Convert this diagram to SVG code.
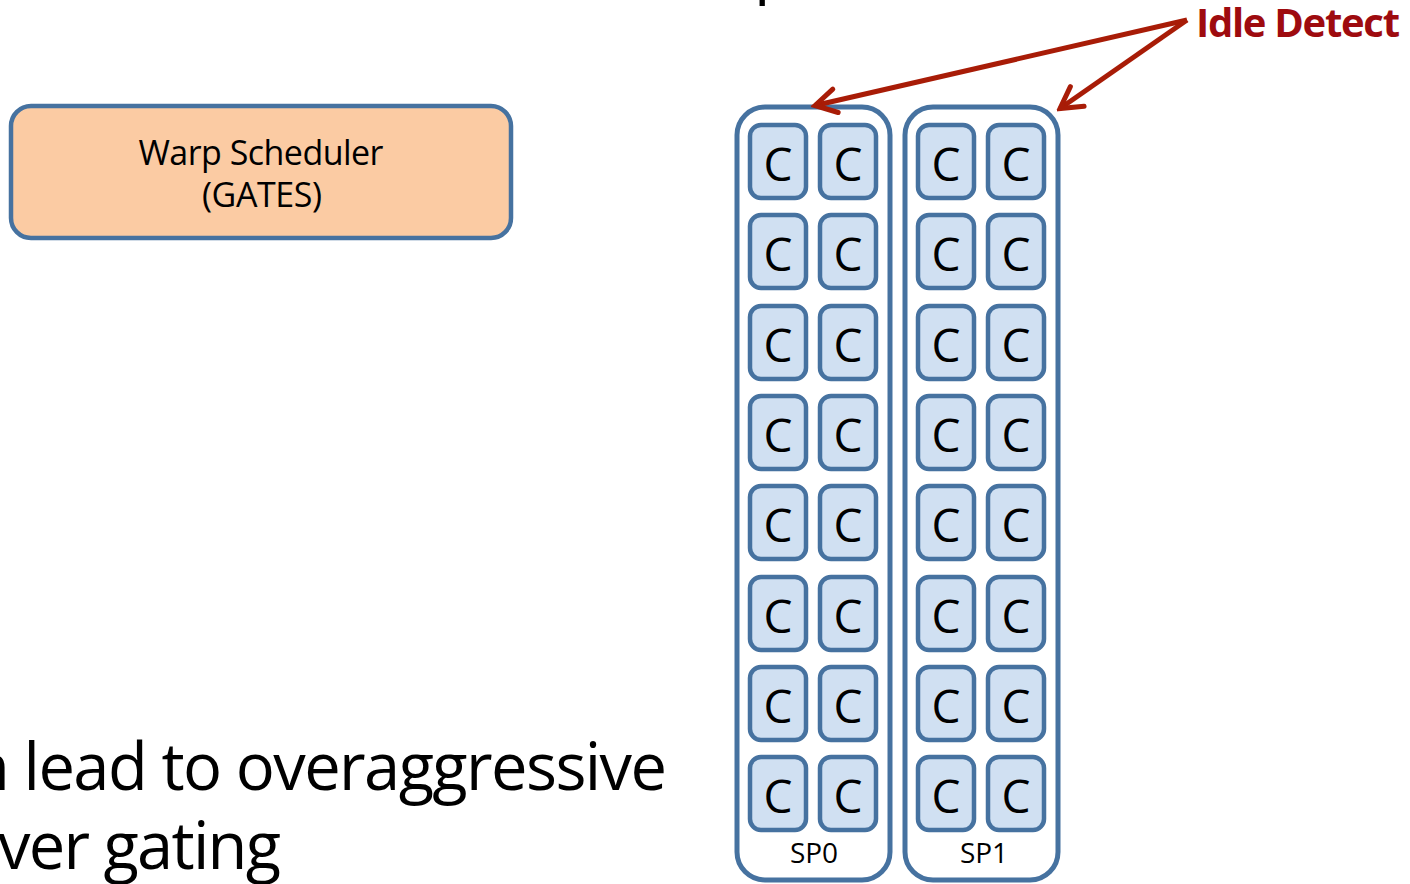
<svg xmlns="http://www.w3.org/2000/svg" width="1410" height="884" viewBox="0 0 1410 884">
<defs>
<style>
text{font-family:"Open Sans","Noto Sans","Liberation Sans",sans-serif;fill:#000}
.cell rect{fill:#D0E0F2;stroke:#4672A0;stroke-width:4.5}
.cell text{font-size:46px;text-anchor:middle}
.sp{fill:#fff;stroke:#4672A0;stroke-width:5}
.splab{font-size:28px;text-anchor:middle}
.big{font-size:65px}
.arrow{stroke:#A81C07;stroke-width:5;fill:none}
</style>
<marker id="open" markerUnits="userSpaceOnUse" viewBox="-26 -16 30 32" refX="0" refY="0" markerWidth="30" markerHeight="32" orient="auto">
<path d="M -21 -12 L 0 0 L -21 12" fill="none" stroke="#A81C07" stroke-width="5" stroke-linejoin="miter" stroke-linecap="round"/>
</marker>
</defs>
<rect width="1410" height="884" fill="#fff"/>

<text class="big" x="754" y="-10.5">p</text>
<text class="big" x="-30" y="790" textLength="697">n lead to overaggressive</text>
<text class="big" x="-2" y="869" textLength="283">ver gating</text>

<g id="warp-scheduler">
<rect x="11" y="106" width="500" height="132" rx="20" fill="#FBCBA3" stroke="#4672A0" stroke-width="4.5"/>
<text x="261" y="165" font-size="34" text-anchor="middle" textLength="245">Warp Scheduler</text>
<text x="262" y="207" font-size="34" text-anchor="middle" textLength="120">(GATES)</text>
</g>

<g id="idle-detect">
<text x="1196" y="37" font-size="40" font-weight="bold" style="fill:#9E0B0F" textLength="204">Idle Detect</text>
</g>

<g id="SP0">
<rect class="sp" x="737" y="107" width="153" height="773" rx="28"/>
<text class="splab" x="814" y="863">SP0</text>
</g>
<g id="SP1">
<rect class="sp" x="905" y="107" width="153" height="773" rx="28"/>
<text class="splab" x="984" y="863">SP1</text>
</g>

<g id="cells">
<g class="cell" id="c0-0-0"><rect x="750" y="125" width="56" height="73" rx="11"/><text x="778" y="181">C</text></g>
<g class="cell" id="c0-0-1"><rect x="820" y="125" width="56" height="73" rx="11"/><text x="848" y="181">C</text></g>
<g class="cell" id="c1-0-0"><rect x="918" y="125" width="56" height="73" rx="11"/><text x="946" y="181">C</text></g>
<g class="cell" id="c1-0-1"><rect x="988" y="125" width="56" height="73" rx="11"/><text x="1016" y="181">C</text></g>

<g class="cell" id="c0-1-0"><rect x="750" y="215" width="56" height="73" rx="11"/><text x="778" y="271">C</text></g>
<g class="cell" id="c0-1-1"><rect x="820" y="215" width="56" height="73" rx="11"/><text x="848" y="271">C</text></g>
<g class="cell" id="c1-1-0"><rect x="918" y="215" width="56" height="73" rx="11"/><text x="946" y="271">C</text></g>
<g class="cell" id="c1-1-1"><rect x="988" y="215" width="56" height="73" rx="11"/><text x="1016" y="271">C</text></g>

<g class="cell" id="c0-2-0"><rect x="750" y="306" width="56" height="73" rx="11"/><text x="778" y="362">C</text></g>
<g class="cell" id="c0-2-1"><rect x="820" y="306" width="56" height="73" rx="11"/><text x="848" y="362">C</text></g>
<g class="cell" id="c1-2-0"><rect x="918" y="306" width="56" height="73" rx="11"/><text x="946" y="362">C</text></g>
<g class="cell" id="c1-2-1"><rect x="988" y="306" width="56" height="73" rx="11"/><text x="1016" y="362">C</text></g>

<g class="cell" id="c0-3-0"><rect x="750" y="396" width="56" height="73" rx="11"/><text x="778" y="452">C</text></g>
<g class="cell" id="c0-3-1"><rect x="820" y="396" width="56" height="73" rx="11"/><text x="848" y="452">C</text></g>
<g class="cell" id="c1-3-0"><rect x="918" y="396" width="56" height="73" rx="11"/><text x="946" y="452">C</text></g>
<g class="cell" id="c1-3-1"><rect x="988" y="396" width="56" height="73" rx="11"/><text x="1016" y="452">C</text></g>

<g class="cell" id="c0-4-0"><rect x="750" y="486" width="56" height="73" rx="11"/><text x="778" y="542">C</text></g>
<g class="cell" id="c0-4-1"><rect x="820" y="486" width="56" height="73" rx="11"/><text x="848" y="542">C</text></g>
<g class="cell" id="c1-4-0"><rect x="918" y="486" width="56" height="73" rx="11"/><text x="946" y="542">C</text></g>
<g class="cell" id="c1-4-1"><rect x="988" y="486" width="56" height="73" rx="11"/><text x="1016" y="542">C</text></g>

<g class="cell" id="c0-5-0"><rect x="750" y="577" width="56" height="73" rx="11"/><text x="778" y="633">C</text></g>
<g class="cell" id="c0-5-1"><rect x="820" y="577" width="56" height="73" rx="11"/><text x="848" y="633">C</text></g>
<g class="cell" id="c1-5-0"><rect x="918" y="577" width="56" height="73" rx="11"/><text x="946" y="633">C</text></g>
<g class="cell" id="c1-5-1"><rect x="988" y="577" width="56" height="73" rx="11"/><text x="1016" y="633">C</text></g>

<g class="cell" id="c0-6-0"><rect x="750" y="667" width="56" height="73" rx="11"/><text x="778" y="723">C</text></g>
<g class="cell" id="c0-6-1"><rect x="820" y="667" width="56" height="73" rx="11"/><text x="848" y="723">C</text></g>
<g class="cell" id="c1-6-0"><rect x="918" y="667" width="56" height="73" rx="11"/><text x="946" y="723">C</text></g>
<g class="cell" id="c1-6-1"><rect x="988" y="667" width="56" height="73" rx="11"/><text x="1016" y="723">C</text></g>

<g class="cell" id="c0-7-0"><rect x="750" y="757" width="56" height="73" rx="11"/><text x="778" y="813">C</text></g>
<g class="cell" id="c0-7-1"><rect x="820" y="757" width="56" height="73" rx="11"/><text x="848" y="813">C</text></g>
<g class="cell" id="c1-7-0"><rect x="918" y="757" width="56" height="73" rx="11"/><text x="946" y="813">C</text></g>
<g class="cell" id="c1-7-1"><rect x="988" y="757" width="56" height="73" rx="11"/><text x="1016" y="813">C</text></g>
</g>

<g id="connectors">
<line class="arrow" x1="1187" y1="20" x2="815" y2="105.5" marker-end="url(#open)"/>
<line class="arrow" x1="1187" y1="20" x2="1060" y2="108.5" marker-end="url(#open)"/>
</g>
</svg>
